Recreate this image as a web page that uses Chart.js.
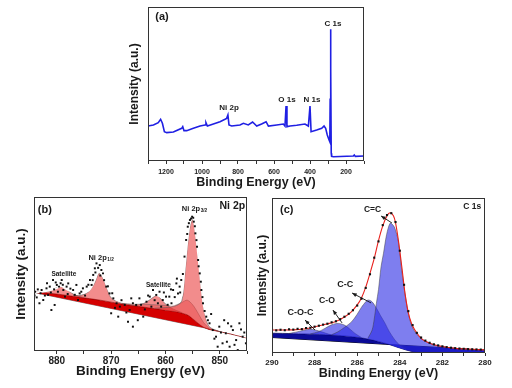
<!DOCTYPE html>
<html lang="en">
<head>
<meta charset="UTF-8">
<title>XPS spectra</title>
<script src="https://cdn.jsdelivr.net/npm/chart.js"></script>
<style>
    body {
        margin: 0;
        width: 512px;
        height: 388px;
        position: relative;
        overflow: hidden;
        background: #fff;
    }
    canvas { position: absolute; }
    #chartA { left: 120px; top: 0; }
    #chartB { left: 0; top: 190px; }
    #chartC { left: 252px; top: 190px; }
</style>
</head>
<body>
<canvas id="chartA" width="250" height="192"></canvas>
<canvas id="chartB" width="255" height="198"></canvas>
<canvas id="chartC" width="260" height="198"></canvas>

<script>
    const FONT = '"Liberation Sans", Arial, sans-serif';

    // (a) survey spectrum
    const surveyEnergy = [1300, 1270, 1243, 1230, 1220, 1209, 1196, 1159, 1113, 1107,
        1100, 1085, 1048, 1011, 983, 978, 970, 937, 900, 872,
        863, 856, 850, 835, 789, 770, 743, 719, 696, 669,
        644, 631, 585, 548, 539, 533, 528, 511, 474, 428,
        409, 400, 394, 363, 335, 322, 313, 304, 294, 290,
        288, 286, 284, 282, 280, 270, 159, 154, 148, 100];
    const surveyCounts = [22.7, 23.4, 24.9, 27.1, 24.5, 19.0, 18.4, 18.8, 21.2, 22.3,
        19.7, 19.7, 21.2, 22.7, 23.4, 24.9, 22.7, 24.0, 25.5, 27.1,
        27.7, 29.9, 23.4, 22.7, 23.4, 24.5, 23.4, 25.3, 22.7, 24.0,
        25.5, 22.7, 23.4, 24.0, 22.7, 35.7, 22.3, 22.7, 23.2, 24.0,
        22.7, 35.7, 19.0, 20.1, 21.2, 22.7, 21.2, 16.9, 13.6, 12.5,
        40, 85.5, 60, 5, 3, 2.8, 3.2, 3.9, 3.0, 3.2];

    // (b) Ni 2p
    const niDotsE = [884.0, 883.7, 883.2, 882.8, 882.5, 881.9, 881.6, 881.3, 881.0, 880.7,
        880.4, 880.0, 879.6, 879.1, 878.8, 878.5, 878.2, 877.9, 877.0, 876.4,
        876.1, 875.8, 875.2, 874.5, 873.9, 873.6, 873.3, 873.0, 872.7, 872.1,
        871.8, 871.5, 870.9, 870.3, 870.0, 869.6, 869.0, 868.7, 868.4, 867.5,
        866.9, 866.6, 866.3, 866.0, 865.4, 864.8, 864.1, 863.5, 862.9, 862.6,
        862.3, 861.7, 861.1, 860.8, 860.5, 859.9, 859.3, 858.9, 858.6, 858.0,
        857.7, 857.4, 857.1, 856.5, 856.2, 855.9, 855.5, 855.1, 854.8, 854.5,
        854.2, 854.0, 853.7, 853.4, 853.1, 852.5, 851.9, 851.3, 850.7, 850.4,
        850.1, 849.5, 848.9, 848.5, 848.2, 847.6, 847.0, 846.7, 846.4, 845.8, 845.2,
        884.1, 883.5, 883.0, 882.2, 881.8, 881.1, 880.5, 880.2, 879.8, 879.3,
        878.9, 878.0, 877.5, 876.7, 875.5, 874.8, 874.2, 873.4, 872.9, 872.4,
        872.0, 871.3, 870.6, 869.8, 869.3, 868.1, 867.2, 866.0, 865.1, 864.5,
        863.8, 863.2, 862.0, 861.4, 860.3, 859.6, 859.0, 858.3, 857.9, 857.3,
        856.8, 856.0, 855.7, 855.3, 854.9, 854.6, 854.3, 853.9, 853.5, 853.2,
        852.8, 852.2, 851.6, 851.0, 849.8, 849.2, 848.7, 847.9, 847.3, 846.1, 845.5];
    const niDotsI = [38.5, 34.8, 31.0, 39.6, 33.1, 40.7, 36.4, 41.8, 26.6, 46.1,
        29.9, 42.9, 41.8, 46.1, 39.6, 35.3, 41.8, 43.9, 39.6, 42.9,
        33.1, 37.4, 40.7, 41.8, 46.1, 42.9, 49.4, 53.7, 56.9, 55.8,
        52.6, 50.4, 41.8, 37.4, 24.5, 34.2, 31.0, 22.3, 28.8, 29.9,
        19.0, 26.6, 34.2, 15.8, 29.9, 34.2, 22.3, 32.0, 35.3, 28.8,
        39.6, 36.4, 38.5, 28.8, 33.1, 35.3, 35.3, 31.0, 39.6, 43.9,
        37.4, 41.8, 46.1, 61.3, 72.1, 80.7, 85.1, 87.2, 84.0, 76.4,
        67.7, 59.1, 50.4, 39.6, 31.0, 22.3, 18.0, 13.6, 9.3, 2.8,
        15.8, 5.0, 11.5, 18.0, 2.8, 13.6, 7.1, 0.6, 18.0, 9.3, 5.0,
        36, 40, 37.5, 36, 44, 38, 40, 44.5, 38.5, 44,
        43, 37, 40.5, 36.5, 38.5, 36, 43, 46, 51, 54,
        49, 46, 42, 37.5, 28, 33, 25, 31, 20, 30,
        27, 36, 33, 31, 38, 30, 40, 35, 47, 38,
        50, 76, 83, 86, 86.5, 81, 72, 55, 45, 35,
        26, 20, 24, 8, 12, 20, 6, 16, 4, 14, 12];
    const niFitE = [884, 882, 880, 879.3, 878, 876, 874, 873, 872.3, 871.5,
        870.5, 869.5, 868, 866, 864, 863, 862, 861, 860, 859,
        858, 857, 856.5, 856, 855.5, 855, 854.5, 854, 853.5, 853,
        852.5, 852, 851, 850, 848, 846, 845];
    const niFitI = [38, 38.8, 40.7, 42.2, 39.6, 37.4, 39.6, 46, 51.5, 48.3,
        39.6, 34.2, 32, 31.4, 32, 34.4, 36.4, 35.3, 32, 29.9,
        31, 36, 52, 70, 83, 87, 78, 62, 45, 30,
        22, 18, 15, 13.5, 11.8, 10, 9];
    const ni32E = [862, 860, 858, 857, 856.5, 856, 855.5, 855, 854.5, 854, 853.5, 853, 852.5, 852, 851, 850];
    const ni32I = [27.8, 28.2, 29.5, 32.5, 47, 66, 80.5, 85.5, 77, 61, 44, 29, 20.5, 16, 13.8, 12.6];
    const niShakeE = [868, 866, 864, 862, 860, 858, 857, 856, 855, 854, 853, 852];
    const niShakeI = [31, 30.6, 30.4, 30, 29.6, 30, 31.5, 33, 30, 24.5, 18.5, 14.8];
    const niSat2E = [866, 865, 864, 863, 862, 861.5, 861, 860, 859, 858, 857];
    const niSat2I = [29.6, 30, 31, 33, 35.5, 36, 34.5, 30.5, 28, 26.3, 25];
    const ni12E = [877, 876, 875, 874, 873, 872.5, 872.2, 871.8, 871.2, 870.5, 870, 869, 868, 866];
    const ni12I = [36.2, 36, 36.8, 39, 44.5, 49, 50.5, 49, 45, 38, 34.5, 32.3, 31, 29.8];
    const niSat1E = [883, 882, 881, 880, 879.5, 879, 878, 877, 876, 875];
    const niSat1I = [38.2, 38.5, 39.5, 41.2, 42, 41.5, 39.5, 37, 35.5, 34.8];
    const niShirleyE = [884.2, 880, 876, 872, 868, 864, 860, 858, 856, 855, 854, 853, 852, 850, 848, 845];
    const niShirleyI = [38.5, 37, 35, 33, 30.5, 28.5, 26.5, 25.5, 23.5, 21, 18, 15.5, 14, 12.6, 11, 8.4];
    const niLinearE = [884.2, 845];
    const niLinearI = [38, 9.3];

    // (c) C 1s
    const cDotsE = [290.0, 289.8, 289.6, 289.4, 289.2, 289.0, 288.8, 288.6, 288.4, 288.2,
        288.0, 287.8, 287.6, 287.4, 287.2, 287.0, 286.8, 286.6, 286.4, 286.2,
        286.0, 285.8, 285.6, 285.4, 285.2, 285.0, 284.8, 284.6, 284.4, 284.2,
        284.0, 283.8, 283.6, 283.4, 283.2, 283.0, 282.8, 282.6, 282.4, 282.2,
        282.0, 281.8, 281.6, 281.4, 281.2, 281.0, 280.8, 280.6, 280.4, 280.2, 280.0];
    const cDotsI = [15.2, 14.6, 15.0, 14.7, 15.3, 15.1, 15.6, 15.4, 16.1, 16.3,
        17.0, 17.6, 18.3, 18.9, 19.8, 20.5, 21.8, 23.4, 25.3, 27.6,
        30.6, 35.0, 42.0, 50.8, 61.5, 72.0, 82.5, 89.0, 90.2, 84.5,
        66.0, 44.0, 27.0, 18.0, 13.0, 10.0, 8.0, 6.6, 5.6, 4.9,
        4.3, 3.8, 3.4, 3.1, 2.9, 2.7, 2.5, 2.4, 2.3, 2.2, 2.1];
    const cFitE = [290, 289.5, 289, 288.5, 288, 287.5, 287, 286.6, 286.3, 286,
        285.8, 285.6, 285.4, 285.2, 285.0, 284.8, 284.6, 284.46, 284.3, 284.2,
        284.07, 283.9, 283.76, 283.6, 283.45, 283.3, 283.0, 282.7, 282.35, 282,
        281.4, 280.6, 280];
    const cFitI = [14.8, 14.8, 14.9, 15.5, 16.8, 18.5, 20.3, 23.2, 26.2, 31,
        35.5, 42.5, 51.4, 61, 72.5, 82, 88.5, 90.5, 88.5, 84,
        73, 55, 39, 26, 19, 15, 9.5, 7, 5.2, 4.2,
        3, 2.4, 2];
    const ccDoubleE = [285.5, 285.3, 285.2, 285.1, 285.0, 284.88, 284.77, 284.62, 284.46, 284.35,
        284.23, 284.07, 283.91, 283.76, 283.6, 283.45, 283.29, 282.97, 282.35, 281.4, 280.5, 280];
    const ccDoubleI = [9.5, 14.8, 22, 32, 41, 55.7, 64, 76.4, 83.7, 83,
        80.5, 72, 53.5, 38.5, 25.6, 18, 13.8, 9, 5.2, 3, 2.2, 2];
    const ccSingleE = [287.2, 286.9, 286.6, 286.26, 286.0, 285.8, 285.6, 285.48, 285.3, 285.1,
        284.9, 284.69, 284.5, 284.23, 284.0, 283.7];
    const ccSingleI = [11.8, 13.7, 16.5, 20.2, 25, 29.5, 33, 34.2, 33, 29,
        24, 19.1, 14, 8.4, 5, 2.5];
    const coE = [288.2, 287.82, 287.5, 287.2, 286.89, 286.6, 286.35, 286.1, 285.8];
    const coI = [12.3, 13.7, 16, 18.2, 19.1, 18, 15.5, 12.6, 10];
    const cocE = [289.2, 288.8, 288.4, 288.1, 287.8, 287.5, 287.2];
    const cocI = [12.6, 13.7, 15, 15.2, 14.2, 12.9, 11.6];
    const cShirleyE = [290, 289, 288, 287, 286, 285.5, 285, 284.5, 284, 283.5, 283, 282, 280];
    const cShirleyI = [12.8, 12.5, 12.1, 11.5, 10.2, 9, 7.5, 5.5, 3.2, 1.2, 0, -0.8, -1.5];
    const cLinearE = [290, 280];
    const cLinearI = [10, 1.8];

    function pts(xs, ys) {
        return xs.map((x, i) => ({ x: x, y: ys[i] }));
    }

    // frame round the plot area, text labels and arrows placed in data units
    function annotate(items, arrows) {
        return {
            id: 'annotate',
            afterDatasetsDraw(chart) {
                const ctx = chart.ctx;
                const a = chart.chartArea;
                const sx = chart.scales.x, sy = chart.scales.y;
                ctx.save();
                ctx.strokeStyle = '#333';
                ctx.lineWidth = 1;
                ctx.strokeRect(a.left + 0.5, a.top + 0.5, a.right - a.left - 1, a.bottom - a.top - 1);
                ctx.fillStyle = '#1a1a1a';
                ctx.textBaseline = 'middle';
                items.forEach(n => {
                    const px = sx.getPixelForValue(n.x);
                    const py = sy.getPixelForValue(n.y);
                    const big = 'bold ' + n.size + 'px ' + FONT;
                    const small = 'bold ' + (n.size * 0.62).toFixed(1) + 'px ' + FONT;
                    if (n.sub) {
                        ctx.font = big;
                        const w = ctx.measureText(n.text).width;
                        ctx.font = small;
                        const ws = ctx.measureText(n.sub).width;
                        const x0 = px - (w + ws) / 2;
                        ctx.textAlign = 'left';
                        ctx.font = big;
                        ctx.fillText(n.text, x0, py);
                        ctx.font = small;
                        ctx.fillText(n.sub, x0 + w + 0.5, py + n.size * 0.22);
                    } else {
                        ctx.font = big;
                        ctx.textAlign = 'center';
                        ctx.fillText(n.text, px, py);
                    }
                });
                ctx.strokeStyle = '#111';
                ctx.lineWidth = 0.9;
                arrows.forEach(r => {
                    const x1 = sx.getPixelForValue(r.x1), y1 = sy.getPixelForValue(r.y1);
                    const x2 = sx.getPixelForValue(r.x2), y2 = sy.getPixelForValue(r.y2);
                    ctx.beginPath();
                    ctx.moveTo(x1, y1);
                    ctx.lineTo(x2, y2);
                    ctx.stroke();
                    const ang = Math.atan2(y1 - y2, x1 - x2);
                    ctx.beginPath();
                    ctx.moveTo(x1, y1);
                    ctx.lineTo(x1 - 5 * Math.cos(ang - 0.4), y1 - 5 * Math.sin(ang - 0.4));
                    ctx.lineTo(x1 - 5 * Math.cos(ang + 0.4), y1 - 5 * Math.sin(ang + 0.4));
                    ctx.closePath();
                    ctx.fill();
                });
                ctx.restore();
            }
        };
    }

    function makeOptions(p) {
        return {
            responsive: false,
            animation: false,
            devicePixelRatio: 1,
            events: [],
            layout: { padding: p.pad },
            plugins: { legend: { display: false }, tooltip: { enabled: false } },
            scales: {
                x: {
                    type: 'linear',
                    reverse: true,
                    min: p.xmin,
                    max: p.xmax,
                    afterFit: s => { s.height = p.xh; },
                    afterBuildTicks: s => {
                        s.ticks = s.ticks.filter(t => Math.abs(t.value / p.step - Math.round(t.value / p.step)) < 1e-6);
                    },
                    ticks: {
                        stepSize: p.step,
                        includeBounds: false,
                        autoSkip: false,
                        maxRotation: 0,
                        padding: p.tickPad,
                        color: '#222',
                        font: { family: FONT, size: p.tickSize, weight: 'bold' },
                        callback: v => (Math.round(v) % p.every === 0 ? String(Math.round(v)) : '')
                    },
                    grid: { display: true, drawOnChartArea: false, drawTicks: true, tickLength: 3, color: '#333' },
                    border: { display: false },
                    title: {
                        display: true,
                        text: 'Binding Energy (eV)',
                        color: '#1a1a1a',
                        font: { family: FONT, size: p.xTitle, weight: 'bold' },
                        padding: { top: 0, bottom: p.xTitlePad }
                    }
                },
                y: {
                    min: 0,
                    max: 100,
                    afterFit: s => { s.width = p.yw; },
                    ticks: { display: false },
                    grid: { display: false },
                    border: { display: false },
                    title: {
                        display: true,
                        text: 'Intensity (a.u.)',
                        color: '#1a1a1a',
                        font: { family: FONT, size: p.yTitle, weight: 'bold' },
                        padding: { top: p.yTitlePad, bottom: 0 }
                    }
                }
            }
        };
    }

    // (a)
    new Chart(document.getElementById('chartA'), {
        type: 'line',
        data: {
            datasets: [{
                data: pts(surveyEnergy, surveyCounts),
                borderColor: '#1f1fe3',
                borderWidth: 1.6,
                pointRadius: 0,
                tension: 0
            }]
        },
        options: makeOptions({
            pad: { top: 7, right: 6, left: 0, bottom: 0 },
            xmin: 100, xmax: 1300, step: 100, every: 200,
            xh: 31, yw: 28, tickPad: 3.5, tickSize: 7,
            xTitle: 12.5, xTitlePad: 1.5, yTitle: 12, yTitlePad: 7.8
        }),
        plugins: [annotate([
            { x: 1222, y: 93.5, text: '(a)', size: 11 },
            { x: 272, y: 89, text: 'C 1s', size: 8 },
            { x: 528, y: 40, text: 'O 1s', size: 8 },
            { x: 389, y: 40, text: 'N 1s', size: 8 },
            { x: 850, y: 34.4, text: 'Ni 2p', size: 8 }
        ], [])]
    });

    // (b)
    const redFill = 'rgba(232, 45, 45, 0.55)';
    const edge = 'rgba(90, 90, 90, 0.8)';
    new Chart(document.getElementById('chartB'), {
        type: 'line',
        data: {
            datasets: [
                { data: pts(niDotsE, niDotsI), showLine: false, pointStyle: 'rect', pointRadius: 1.4,
                  backgroundColor: '#111', borderWidth: 0 },
                { data: pts(niFitE, niFitI), borderColor: '#ffffff', borderWidth: 1.6, pointRadius: 0, tension: 0.3 },
                { data: pts(ni32E, ni32I), borderColor: edge, borderWidth: 0.7, pointRadius: 0, tension: 0.3,
                  fill: 7, backgroundColor: redFill },
                { data: pts(niShakeE, niShakeI), borderColor: edge, borderWidth: 0.6, pointRadius: 0, tension: 0.3,
                  fill: 7, backgroundColor: 'rgba(232, 45, 45, 0.35)' },
                { data: pts(niSat2E, niSat2I), borderColor: edge, borderWidth: 0.7, pointRadius: 0, tension: 0.3,
                  fill: 7, backgroundColor: redFill },
                { data: pts(ni12E, ni12I), borderColor: edge, borderWidth: 0.7, pointRadius: 0, tension: 0.3,
                  fill: 7, backgroundColor: redFill },
                { data: pts(niSat1E, niSat1I), borderColor: edge, borderWidth: 0.7, pointRadius: 0, tension: 0.3,
                  fill: 7, backgroundColor: redFill },
                { data: pts(niShirleyE, niShirleyI), borderColor: '#700000', borderWidth: 0.7, pointRadius: 0, tension: 0.3,
                  fill: 8, backgroundColor: '#d40000' },
                { data: pts(niLinearE, niLinearI), borderColor: '#666', borderWidth: 0.8, pointRadius: 0 }
            ]
        },
        options: makeOptions({
            pad: { top: 7, right: 8, left: 0, bottom: 0 },
            xmin: 845, xmax: 884.2, step: 5, every: 10,
            xh: 37, yw: 34, tickPad: 1, tickSize: 10,
            xTitle: 13.5, xTitlePad: 8.2, yTitle: 13.5, yTitlePad: 13.6
        }),
        plugins: [annotate([
            { x: 882.2, y: 91.6, text: '(b)', size: 11 },
            { x: 847.7, y: 94.2, text: 'Ni 2p', size: 10.5 },
            { x: 854.7, y: 92.2, text: 'Ni 2p', sub: '3/2', size: 7.5 },
            { x: 871.9, y: 60.6, text: 'Ni 2p', sub: '1/2', size: 7.5 },
            { x: 878.7, y: 49.8, text: 'Satellite', size: 6.5 },
            { x: 861.3, y: 42.9, text: 'Satellite', size: 6.5 }
        ], [])]
    });

    // (c)
    const blueFill = 'rgba(40, 40, 228, 0.6)';
    const cEdge = 'rgba(60, 60, 60, 0.8)';
    new Chart(document.getElementById('chartC'), {
        type: 'line',
        data: {
            datasets: [
                { data: pts(cDotsE, cDotsI), showLine: false, pointStyle: 'rect', pointRadius: 1.5,
                  backgroundColor: '#111', borderWidth: 0 },
                { data: pts(cFitE, cFitI), borderColor: '#e8201c', borderWidth: 1.1, pointRadius: 0, tension: 0.3 },
                { data: pts(ccDoubleE, ccDoubleI), borderColor: cEdge, borderWidth: 0.6, pointRadius: 0, tension: 0.3,
                  fill: 6, backgroundColor: blueFill },
                { data: pts(ccSingleE, ccSingleI), borderColor: cEdge, borderWidth: 0.6, pointRadius: 0, tension: 0.3,
                  fill: 6, backgroundColor: blueFill },
                { data: pts(coE, coI), borderColor: cEdge, borderWidth: 0.6, pointRadius: 0, tension: 0.3,
                  fill: 6, backgroundColor: blueFill },
                { data: pts(cocE, cocI), borderColor: cEdge, borderWidth: 0.6, pointRadius: 0, tension: 0.3,
                  fill: 6, backgroundColor: blueFill },
                { data: pts(cShirleyE, cShirleyI), borderColor: '#000050', borderWidth: 0.7, pointRadius: 0, tension: 0.3,
                  fill: 7, backgroundColor: '#0a0a96' },
                { data: pts(cLinearE, cLinearI), borderColor: '#111', borderWidth: 1, pointRadius: 0 }
            ]
        },
        options: makeOptions({
            pad: { top: 8, right: 27, left: 0, bottom: 0 },
            xmin: 280, xmax: 290, step: 1, every: 2,
            xh: 35, yw: 20, tickPad: 2.2, tickSize: 8,
            xTitle: 12.5, xTitlePad: 6.5, yTitle: 12, yTitlePad: 3.1
        }),
        plugins: [annotate([
            { x: 289.31, y: 92.3, text: '(c)', size: 11 },
            { x: 280.6, y: 94.4, text: 'C 1s', size: 8.5 },
            { x: 285.28, y: 92.3, text: 'C=C', size: 8.5 },
            { x: 286.56, y: 44.5, text: 'C-C', size: 9 },
            { x: 287.42, y: 33.7, text: 'C-O', size: 8.7 },
            { x: 288.66, y: 26.2, text: 'C-O-C', size: 9 }
        ], [
            { x1: 284.88, y1: 88.4, x2: 284.37, y2: 83.9 },
            { x1: 286.24, y1: 38.7, x2: 285.35, y2: 32.3 },
            { x1: 287.14, y1: 27.7, x2: 286.71, y2: 19.4 },
            { x1: 288.45, y1: 21.3, x2: 287.98, y2: 14.8 }
        ])]
    });
</script>
</body>
</html>
